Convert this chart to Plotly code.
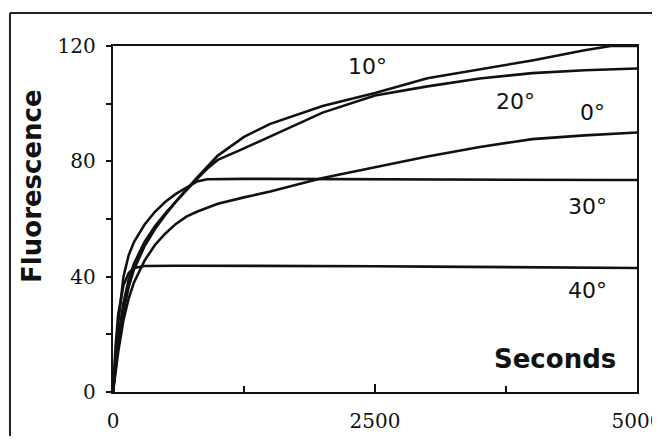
import plotly.graph_objects as go

# time grid (seconds)
seconds = [0, 25, 50, 100, 150, 200, 300, 400, 500, 600, 700, 800, 900, 1000,
           1250, 1500, 2000, 2500, 3000, 3500, 4000, 4500, 4750, 5000]

fl_0 = [0, 8, 14, 25, 32.5, 38, 45.5, 51, 55, 58.3, 60.8, 62.5, 64, 65.3,
        67.5, 69.5, 74.2, 78, 81.7, 85, 87.7, 89, 89.6, 90]
fl_10 = [0, 9, 16, 28, 36.5, 42.5, 50.5, 56.5, 61.5, 66, 70.3, 74.3, 78.2, 82,
         88.5, 93, 99.2, 103.7, 108.8, 112, 115, 118.5, 120, 120]
fl_20 = [0, 11, 19, 31, 39, 44.5, 52, 57.5, 62, 66, 70, 73.8, 77.5, 80.5,
         84.5, 88.7, 96.9, 102.8, 106, 108.7, 110.6, 111.6, 112, 112.2]
fl_30 = [0, 14, 24, 40, 47.5, 52, 58, 62.5, 66, 68.7, 71, 73, 73.8, 73.9,
         73.9, 73.9, 73.8, 73.8, 73.7, 73.7, 73.6, 73.5, 73.5, 73.5]
fl_40 = [0, 16, 27, 37, 41.3, 43, 43.7, 43.8, 43.8, 43.8, 43.8, 43.8, 43.8, 43.8,
         43.8, 43.8, 43.7, 43.6, 43.5, 43.4, 43.3, 43.2, 43.1, 43]

series = [("0°", fl_0), ("10°", fl_10), ("20°", fl_20), ("30°", fl_30), ("40°", fl_40)]

# label anchor positions (data coords) for each curve label
label_names = ["10°", "20°", "0°", "30°", "40°"]
label_t = [2424, 3836, 4571, 4532, 4523]
label_f = [113, 100.9, 97.0, 64.3, 35.1]

x_ticks = [0, 2500, 5000]
x_minor = [1250, 3750]
y_ticks = [0, 40, 80, 120]
y_minor = [20, 60, 100]

fig = go.Figure()
for name, ys in series:
    fig.add_trace(go.Scatter(x=seconds, y=ys, mode="lines", name=name,
                             line=dict(color="#111111", width=2.6),
                             showlegend=False))

for n, tx, fy in zip(label_names, label_t, label_f):
    fig.add_annotation(x=tx, y=fy, text=n, showarrow=False,
                       xanchor="center", yanchor="middle",
                       font=dict(family="DejaVu Sans", size=22, color="#111111"))

fig.add_annotation(x=4218, y=11.5, text="<b>Seconds</b>", showarrow=False,
                   xanchor="center", yanchor="middle",
                   font=dict(family="DejaVu Sans", size=26, color="#111111"))
fig.add_annotation(xref="paper", yref="paper", x=-0.155, y=0.595,
                   xanchor="center", yanchor="middle",
                   text="<b>Fluorescence</b>", showarrow=False, textangle=-90,
                   font=dict(family="DejaVu Sans", size=26, color="#111111"))

# outer frame of the scanned figure
fig.add_shape(type="line", xref="paper", yref="paper", x0=-0.1966, x1=-0.1966,
              y0=1.0954, y1=-0.2, line=dict(color="#222222", width=2))
fig.add_shape(type="line", xref="paper", yref="paper", x0=-0.1966, x1=1.1,
              y0=1.0954, y1=1.0954, line=dict(color="#222222", width=2))

axis_common = dict(showgrid=False, zeroline=False, showline=True, mirror=True,
                   automargin=False,
                   linecolor="#111111", linewidth=2.4, tickcolor="#111111",
                   tickwidth=2, ticklabeloverflow="allow",
                   tickfont=dict(family="DejaVu Serif", size=20, color="#111111"))

fig.update_xaxes(range=[0, 5000], tickmode="array", tickvals=x_ticks,
                 ticktext=[str(v) for v in x_ticks], ticks="inside", ticklen=8,
                 ticklabelstandoff=10,
                 minor=dict(tickmode="array", tickvals=x_minor, ticks="inside",
                            ticklen=6, tickwidth=2, tickcolor="#111111"),
                 **axis_common)
fig.update_yaxes(range=[0, 120], tickmode="array", tickvals=y_ticks,
                 ticktext=[str(v) for v in y_ticks], ticks="outside", ticklen=5,
                 ticklabelstandoff=6,
                 minor=dict(tickmode="array", tickvals=y_minor, ticks="outside",
                            ticklen=5, tickwidth=2, tickcolor="#111111"),
                 **axis_common)

# the page adds an 8px body margin on every side
fig.update_layout(width=644, height=428,
                  margin=dict(l=105, r=15, t=38, b=44),
                  paper_bgcolor="white", plot_bgcolor="white")

fig.write_html("out.html")
